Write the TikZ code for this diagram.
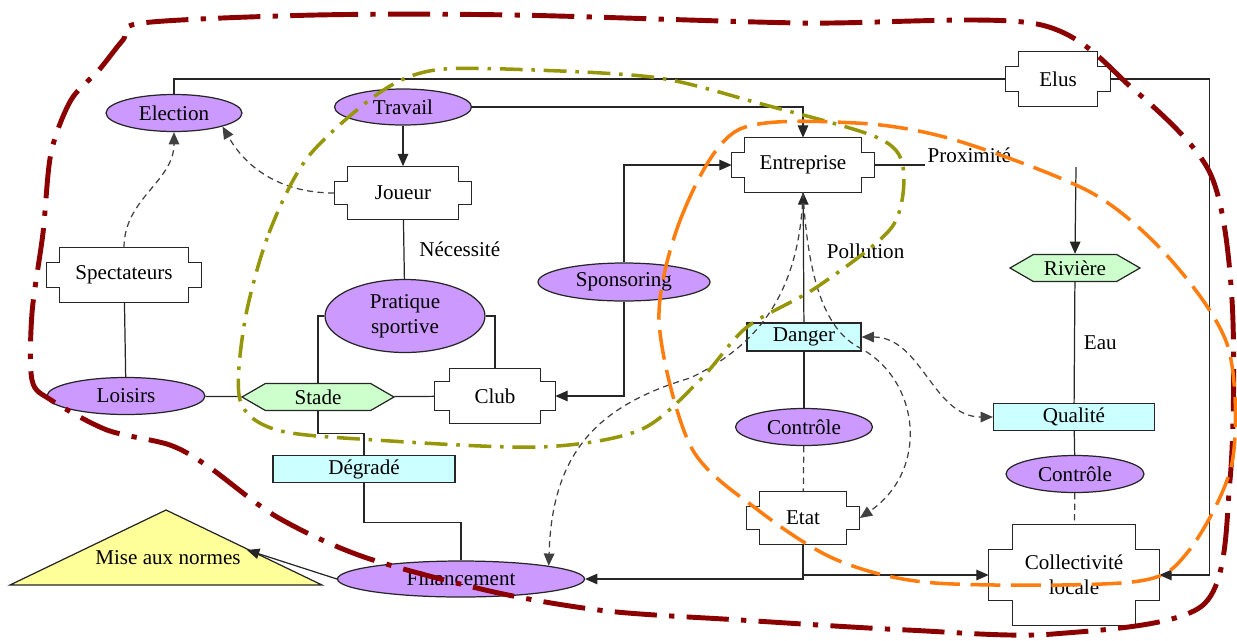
\documentclass[tikz,border=0pt]{standalone}
\usepackage{fontspec}
\setmainfont{Liberation Serif}
\usetikzlibrary{shapes.geometric,shapes.symbols,arrows.meta,positioning}
\definecolor{lilas}{RGB}{204,153,255}
\definecolor{menthe}{RGB}{204,255,204}
\definecolor{ciel}{RGB}{204,255,255}
\definecolor{paille}{RGB}{255,255,153}
\definecolor{bordeaux}{RGB}{139,0,0}
\definecolor{kaki}{RGB}{150,150,10}
\definecolor{orangec}{RGB}{255,125,15}
\tikzset{
  oval/.style={ellipse, draw=black!85, fill=lilas, line width=0.7pt, inner sep=0pt},
  notched/.style={rectangle, inner sep=0pt},
  hexa/.style={signal, signal to=east and west, signal pointer angle=60, draw=black!85, fill=menthe, line width=0.7pt, inner sep=0pt},
  flag/.style={rectangle, draw=black!85, fill=ciel, line width=0.7pt, inner sep=0pt},
  link/.style={line width=0.7pt, draw=black!85},
  arr/.style={-{Triangle[length=7pt,width=6pt]}},
  hint/.style={line width=0.7pt, draw=black!75, dash pattern=on 3.5pt off 2.5pt},
}
\begin{document}
\begin{tikzpicture}[x=0.02cm, y=-0.02cm, font=\fontsize{12}{14}\selectfont]
\useasboundingbox (0,0) rectangle (1237,640);
\node[oval, minimum width=2.72cm, minimum height=0.74cm] (election) at (174,113) {Election};
\node[oval, minimum width=2.74cm, minimum height=0.72cm] (travail) at (403,107) {Travail};
\node[notched, minimum width=2.74cm, minimum height=1.06cm] (joueur) at (403,193) {Joueur};
\node[notched, minimum width=3.1cm, minimum height=1.08cm] (spectateurs) at (124,275) {Spectateurs};
\node[notched, minimum width=2.08cm, minimum height=1.08cm] (elus) at (1058,79) {Elus};
\node[notched, minimum width=2.84cm, minimum height=1.08cm] (entreprise) at (803,165) {Entreprise};
\node[oval, minimum width=3.2cm, minimum height=1.46cm, align=center] (pratique) at (405,316) {Pratique\\sportive};
\node[oval, minimum width=3.44cm, minimum height=0.76cm] (sponsoring) at (624,282) {Sponsoring};
\node[hexa, minimum width=2.6cm, minimum height=0.54cm] (riviere) at (1075,268) {Rivière};
\node[oval, minimum width=3.16cm, minimum height=0.74cm] (loisirs) at (126,396) {Loisirs};
\node[hexa, minimum width=3.04cm, minimum height=0.54cm] (stade) at (318,397) {Stade};
\node[notched, minimum width=2.4cm, minimum height=1.08cm] (club) at (495,396) {Club};
\node[flag, minimum width=2.28cm, minimum height=0.56cm] (danger) at (804,337) {Danger};
\node[flag, minimum width=3.22cm, minimum height=0.54cm] (qualite) at (1074,417) {Qualité};
\node[oval, minimum width=2.74cm, minimum height=0.74cm] (controleA) at (804,427) {Contrôle};
\node[oval, minimum width=2.76cm, minimum height=0.74cm] (controleB) at (1075,474) {Contrôle};
\node[flag, minimum width=3.64cm, minimum height=0.54cm] (degrade) at (364,469) {Dégradé};
\node[notched, minimum width=2.26cm, minimum height=1.06cm] (etat) at (803,518) {Etat};
\node[notched, minimum width=3.4cm, minimum height=2.02cm, align=center] (collectivite) at (1074,575) {Collectivité\\locale};
\node[oval, minimum width=4.94cm, minimum height=0.72cm] (financement) at (461,579) {Financement};
\draw[link, fill=paille] (10,585) -- (166,510) -- (322,585) -- cycle;
\node (mise) at (168,558) {Mise aux normes};
\coordinate (miseedge) at (247,550);
\coordinate (source) at (1076,167);

\foreach \n/\dx/\dy in {joueur/0.26/0.3, spectateurs/0.26/0.3, elus/0.26/0.3, entreprise/0.26/0.3, club/0.3/0.26, etat/0.26/0.3, collectivite/0.48/0.5}
  \draw[link] ([xshift=\dx cm]\n.north west) -- ([xshift=-\dx cm]\n.north east)
    -- ([xshift=-\dx cm, yshift=-\dy cm]\n.north east) -- ([yshift=-\dy cm]\n.north east)
    -- ([yshift=\dy cm]\n.south east) -- ([xshift=-\dx cm, yshift=\dy cm]\n.south east)
    -- ([xshift=-\dx cm]\n.south east) -- ([xshift=\dx cm]\n.south west)
    -- ([xshift=\dx cm, yshift=\dy cm]\n.south west) -- ([yshift=\dy cm]\n.south west)
    -- ([yshift=-\dy cm]\n.north west) -- ([xshift=\dx cm, yshift=-\dy cm]\n.north west) -- cycle;

\draw[link] (election.north) |- (elus.west);
\draw[link, arr] (elus.east) -- ++(99,0) |- (collectivite.east);
\draw[link, arr] (travail.east) -| (entreprise.north);
\draw[link, arr] (travail) -- (joueur);
\draw[link] (joueur) -- (pratique) node[midway, right=0.18cm] {Nécessité};
\draw[link] (pratique.west) -| (stade.north);
\draw[link] (pratique.east) -| (club.north);
\draw[link] (stade) -- (club);
\draw[link] (loisirs) -- (stade);
\draw[link] (spectateurs) -- (loisirs);
\draw[link, arr] (sponsoring.south) |- (club.east);
\draw[link, arr] (sponsoring.north) |- (entreprise.west);
\draw[link] (stade.south) -- ++(0,22) -| (degrade.north);
\draw[link] (degrade.south) -- ++(0,39) -| (financement.north);
\draw[link, arr] (financement.west) -- (miseedge);
\draw[link] (entreprise.east) -- ++(51,0) node[anchor=west, inner sep=1pt, yshift=0.2cm] {Proximité};
\draw[link, arr] (source) -- (riviere.north);
\draw[link] (riviere) -- (qualite) node[midway, right=0.06cm] {Eau};
\draw[link] (qualite) -- (controleB);
\draw[hint] (controleB) -- (collectivite);
\draw[link, arr] (danger) -- (entreprise) node[pos=0.55, right=0.34cm] {Pollution};
\draw[link] (danger) -- (controleA);
\draw[hint] (controleA) -- (etat);
\draw[link, arr] (etat.south) |- (financement.east);
\draw[link, arr] (etat.south) |- (collectivite.west);
\draw[hint, arr] (spectateurs.north) to[out=90, in=-90] (election.south);
\draw[hint, arr] (joueur.west) to[out=180, in=-60] (election.south east);
\draw[hint, arr] (entreprise.south) .. controls (800,290) and (760,345) .. (690,378) .. controls (600,405) and (552,450) .. (financement.north east);
\draw[hint, arr] (entreprise.south) .. controls (808,280) and (825,330) .. (860,348) .. controls (920,380) and (930,470) .. (etat.east);
\draw[hint, {Triangle[length=7pt,width=6pt]}-{Triangle[length=7pt,width=6pt]}] (danger.east) to[out=0, in=180] (qualite.west);

\draw[bordeaux, line width=2.8pt, dash pattern=on 24pt off 7pt on 3pt off 7pt] plot[smooth cycle, tension=0.5] coordinates {(142,23) (316,15) (514,15) (800,23) (1037,24) (1132,88) (1210,173) (1232,300) (1230,480) (1203,605) (1053,634) (907,630) (740,620) (607,611) (494,592) (364,557) (277,517) (209,467) (170,445) (107,430) (51,400) (32,380) (32,313) (43,233) (51,153) (71,100) (99,70) (123,40)};
\draw[kaki, line width=2pt, dash pattern=on 13pt off 5pt on 2pt off 5pt] plot[smooth cycle, tension=0.5] coordinates {(245,320) (269,233) (308,157) (379,93) (435,70) (534,70) (659,78) (758,103) (876,137) (903,167) (892,227) (817,287) (747,327) (700,380) (640,430) (540,447) (375,440) (277,430) (240,400)};
\draw[orangec, line width=2pt, dash pattern=on 17pt off 6pt] plot[smooth cycle, tension=0.5] coordinates {(659,320) (683,213) (738,130) (856,123) (955,140) (1092,193) (1171,260) (1228,347) (1232,463) (1187,553) (1132,582) (935,583) (837,560) (758,510) (691,447)};
\end{tikzpicture}
\end{document}
